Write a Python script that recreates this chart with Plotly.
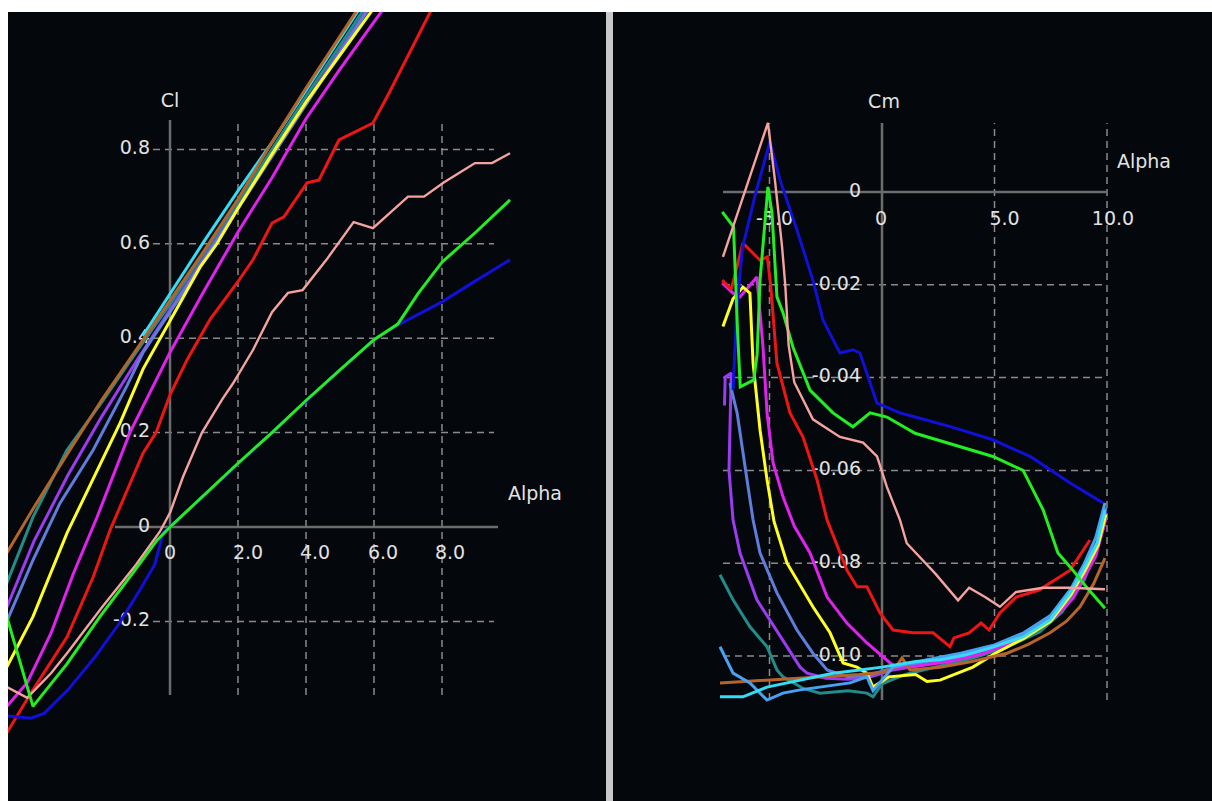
import plotly.graph_objects as go

# ------------------------------------------------------------------
# DATA
# ------------------------------------------------------------------
# ---- Left panel : Cl vs Alpha ----
cl_alpha_blue = [-4.8, -4.1, -3.7, -3.0, -2.2, -1.5, -0.9, -0.45, -0.2, 1.0, 2.0, 3.0, 4.0, 5.0, 6.0, 6.7, 7.5, 8.0, 9.0, 10.0]
cl_blue = [-0.40, -0.405, -0.395, -0.345, -0.275, -0.205, -0.135, -0.08, -0.013, 0.067, 0.134, 0.2, 0.267, 0.333, 0.397, 0.428, 0.458, 0.477, 0.522, 0.566]

cl_alpha_green = [-4.8, -4.03, -3.03, -2.06, -1.09, -0.38, 0.0, 1.0, 2.0, 3.0, 4.0, 5.0, 6.0, 6.7, 7.3, 8.0, 9.0, 10.0]
cl_green = [-0.19, -0.38, -0.29, -0.19, -0.097, -0.028, 0.0, 0.068, 0.135, 0.2, 0.268, 0.333, 0.397, 0.43, 0.495, 0.561, 0.625, 0.693]

cl_alpha_pink = [-4.8, -4.2, -3.5, -3.0, -2.0, -1.0, -0.3, 0.0, 0.38, 0.94, 1.53, 1.86, 2.44, 3.0, 3.47, 3.9, 4.6, 5.4, 5.97, 6.45, 7.0, 7.47, 8.05, 8.5, 8.97, 9.47, 10.0]
cl_pink = [-0.339, -0.362, -0.31, -0.265, -0.17, -0.08, -0.01, 0.03, 0.106, 0.2, 0.27, 0.305, 0.375, 0.455, 0.496, 0.502, 0.566, 0.646, 0.633, 0.665, 0.70, 0.70, 0.73, 0.75, 0.771, 0.771, 0.792]

cl_alpha_red = [-4.8, -4.03, -3.03, -2.26, -1.76, -1.26, -0.79, -0.41, 0.0, 0.5, 1.18, 1.97, 2.44, 3.0, 3.35, 4.03, 4.38, 4.97, 5.97, 6.44, 7.12, 7.65, 8.0]
cl_red = [-0.436, -0.345, -0.233, -0.106, -0.006, 0.078, 0.157, 0.2, 0.28, 0.354, 0.44, 0.517, 0.566, 0.644, 0.657, 0.729, 0.735, 0.82, 0.856, 0.919, 1.017, 1.091, 1.14]

cl_alpha_magenta = [-4.8, -4.2, -3.5, -2.85, -2.15, -1.18, 0.0, 1.0, 2.0, 3.0, 4.0, 5.0, 6.0, 6.5]
cl_magenta = [-0.38, -0.33, -0.225, -0.1, 0.02, 0.2, 0.37, 0.5, 0.625, 0.74, 0.865, 0.97, 1.07, 1.12]

cl_alpha_yellow = [-4.8, -4.03, -3.03, -1.85, -1.47, -0.79, 0.0, 0.88, 1.38, 2.0, 3.0, 4.0, 5.0, 6.0]
cl_yellow = [-0.297, -0.19, -0.013, 0.163, 0.22, 0.335, 0.438, 0.55, 0.6, 0.675, 0.79, 0.9, 1.0, 1.1]

cl_alpha_steel = [-4.8, -4.03, -3.24, -2.26, -1.26, -0.79, 0.0, 1.0, 2.0, 3.0, 4.0, 5.0, 6.0]
cl_steel = [-0.2, -0.07, 0.05, 0.163, 0.30, 0.37, 0.455, 0.565, 0.675, 0.785, 0.895, 1.005, 1.115]

cl_alpha_purple = [-4.8, -4.0, -3.0, -2.0, -1.0, 0.0, 1.0, 2.0, 3.0, 4.0, 5.0, 6.0]
cl_purple = [-0.17, -0.03, 0.11, 0.235, 0.35, 0.46, 0.57, 0.68, 0.79, 0.9, 1.01, 1.12]

cl_alpha_teal = [-4.8, -4.03, -3.03, -2.0, -1.0, 0.0, 1.0, 2.0, 3.0, 4.0, 5.0, 6.0]
cl_teal = [-0.119, 0.021, 0.163, 0.265, 0.37, 0.472, 0.58, 0.688, 0.8, 0.912, 1.02, 1.13]

cl_alpha_cyan = [-0.8, 0.0, 1.0, 2.0, 3.0, 4.0, 5.0, 6.0]
cl_cyan = [0.405, 0.495, 0.605, 0.712, 0.815, 0.925, 1.035, 1.145]

cl_alpha_brown = [-4.8, -4.0, -3.0, -2.0, -1.0, 0.0, 1.0, 2.0, 3.0, 4.0, 5.0, 6.0]
cl_brown = [-0.055, 0.042, 0.157, 0.27, 0.375, 0.48, 0.585, 0.695, 0.815, 0.93, 1.04, 1.15]

# ---- Right panel : Cm vs Alpha ----
cm_alpha_pink = [-7.07, -6.0, -5.07, -4.76, -4.44, -4.3, -4.15, -3.9, -3.07, -1.87, -0.84, -0.22, 0.22, 0.8, 1.1, 2.36, 3.38, 3.87, 4.58, 5.24, 5.96, 7.16, 8.36, 9.91]
cm_pink = [-0.014, 0.0012, 0.0149, 0.0026, -0.0119, -0.02, -0.033, -0.041, -0.049, -0.0528, -0.054, -0.057, -0.0636, -0.0707, -0.0757, -0.0822, -0.088, -0.0853, -0.0873, -0.0894, -0.0862, -0.0853, -0.0853, -0.0856]

cm_alpha_blue = [-6.62, -6.45, -6.2, -5.6, -4.98, -4.53, -3.78, -3.07, -2.62, -1.87, -1.29, -0.98, -0.22, 0.8, 1.47, 3.0, 4.93, 6.62, 8.36, 9.82]
cm_blue = [-0.0427, -0.025, -0.012, 0.0, 0.0108, 0.0026, -0.0082, -0.019, -0.0276, -0.0347, -0.034, -0.0347, -0.0455, -0.0476, -0.0485, -0.0505, -0.0534, -0.0571, -0.0627, -0.067]

cm_alpha_green = [-7.1, -6.6, -6.42, -6.3, -5.7, -5.55, -5.42, -5.07, -4.89, -4.67, -4.4, -3.96, -3.2, -2.18, -1.29, -0.53, 0.22, 1.47, 4.93, 6.27, 7.16, 7.82, 8.36, 9.2, 9.91]
cm_green = [-0.0043, -0.0075, -0.03, -0.042, -0.0405, -0.035, -0.019, 0.0011, -0.0045, -0.0226, -0.026, -0.0334, -0.0427, -0.0476, -0.0506, -0.0476, -0.0485, -0.052, -0.057, -0.06, -0.0685, -0.0778, -0.0808, -0.0858, -0.0897]

cm_alpha_red = [-7.1, -6.7, -6.18, -5.42, -5.1, -4.95, -4.67, -4.09, -3.51, -2.89, -2.44, -1.56, -1.11, -0.67, -0.09, 0.49, 1.38, 2.27, 3.02, 3.2, 3.87, 4.4, 4.76, 5.24, 5.96, 6.98, 8.36, 9.24]
cm_red = [-0.019, -0.021, -0.011, -0.0147, -0.014, -0.02, -0.0369, -0.0476, -0.0528, -0.062, -0.0707, -0.0815, -0.0851, -0.0851, -0.0907, -0.0944, -0.095, -0.095, -0.098, -0.0961, -0.095, -0.0929, -0.0944, -0.0907, -0.0873, -0.0858, -0.0815, -0.075]

cm_alpha_magenta = [-7.1, -6.62, -6.31, -5.56, -5.29, -5.11, -4.84, -4.4, -3.9, -3.2, -2.44, -1.56, -0.67, 0.36, 0.67, 1.5, 3.0, 4.5, 6.0, 7.5, 8.5, 9.5, 9.95]
cm_magenta = [-0.0196, -0.0218, -0.0226, -0.0183, -0.0334, -0.0476, -0.0584, -0.0657, -0.072, -0.0778, -0.0873, -0.0929, -0.0972, -0.1015, -0.1024, -0.1022, -0.1012, -0.0995, -0.0966, -0.0925, -0.0875, -0.0785, -0.0705]

cm_alpha_yellow = [-7.07, -6.62, -6.18, -5.87, -5.73, -5.42, -5.11, -4.8, -4.22, -3.78, -3.07, -2.31, -1.73, -1.11, -0.67, -0.4, 0.3, 1.5, 2.0, 2.58, 4.04, 5.0, 6.3, 7.5, 8.4, 9.0, 9.6, 9.95]
cm_yellow = [-0.029, -0.023, -0.0205, -0.0218, -0.0369, -0.0513, -0.062, -0.071, -0.08, -0.0836, -0.0894, -0.095, -0.1015, -0.1024, -0.1037, -0.1067, -0.1045, -0.104, -0.1055, -0.1052, -0.1024, -0.0995, -0.0962, -0.0925, -0.0868, -0.0818, -0.0762, -0.0695]

cm_alpha_purple = [-7.0, -6.97, -6.7, -6.75, -6.8, -6.62, -6.31, -5.56, -4.98, -4.22, -3.64, -3.33, -2.5, -1.5, -0.5, 0.5, 2.0, 3.5, 5.0, 6.3, 7.5, 8.4, 9.0, 9.6, 9.95]
cm_purple = [-0.046, -0.0399, -0.039, -0.05, -0.06, -0.0707, -0.0778, -0.0879, -0.0922, -0.098, -0.1024, -0.1037, -0.1048, -0.105, -0.1045, -0.103, -0.1018, -0.1002, -0.0982, -0.0958, -0.092, -0.0864, -0.0814, -0.0756, -0.069]

cm_alpha_corn = [-6.76, -6.44, -6.0, -5.73, -5.42, -4.67, -3.78, -3.07, -2.44, -1.5, -0.5, 0.5, 2.0, 3.5, 5.0, 6.3, 7.5, 8.4, 9.0, 9.6, 9.95]
cm_corn = [-0.0412, -0.0476, -0.062, -0.0707, -0.0778, -0.0864, -0.0944, -0.0994, -0.103, -0.1045, -0.104, -0.1025, -0.1012, -0.0998, -0.098, -0.0955, -0.0918, -0.086, -0.081, -0.0752, -0.068]

cm_alpha_teal = [-7.2, -6.62, -5.87, -5.11, -4.67, -4.4, -3.5, -2.76, -1.5, -0.67, -0.4, 0.0, 1.0, 2.5, 4.0, 5.5, 7.0, 8.0, 9.0, 9.9]
cm_teal = [-0.0825, -0.0879, -0.0937, -0.098, -0.103, -0.1045, -0.107, -0.108, -0.1075, -0.108, -0.1088, -0.106, -0.104, -0.1022, -0.1005, -0.0982, -0.0948, -0.0905, -0.0835, -0.0715]

cm_alpha_lblue = [-7.2, -6.62, -5.87, -5.11, -4.4, -3.64, -1.42, -0.67, -0.4, 0.49, 2.0, 3.5, 5.0, 6.3, 7.5, 8.4, 9.0, 9.5, 9.91]
cm_lblue = [-0.098, -0.1037, -0.1058, -0.1095, -0.108, -0.1073, -0.1058, -0.1045, -0.1075, -0.1024, -0.1008, -0.0994, -0.0976, -0.095, -0.0912, -0.0855, -0.08, -0.0745, -0.067]

cm_alpha_brown = [-7.2, -5.0, -3.0, -1.0, 0.0, 0.6, 0.89, 1.24, 2.58, 4.0, 5.56, 6.5, 7.47, 8.2, 8.8, 9.4, 9.91]
cm_brown = [-0.1058, -0.1052, -0.1046, -0.104, -0.1035, -0.1025, -0.1004, -0.103, -0.1024, -0.1012, -0.0994, -0.0975, -0.095, -0.0925, -0.0894, -0.0845, -0.0789]

cm_alpha_cyan = [-7.2, -6.18, -5.11, -3.64, -2.18, -0.98, 0.0, 1.5, 2.6, 3.7, 4.8, 6.27, 7.47, 8.36, 8.93, 9.56, 9.91]
cm_cyan = [-0.1088, -0.1088, -0.1067, -0.1052, -0.1037, -0.103, -0.1024, -0.1012, -0.1008, -0.0998, -0.0983, -0.0959, -0.0922, -0.0864, -0.0815, -0.0757, -0.0685]

# ---- tick labels ----
cl_xticks = [0, 2, 4, 6, 8]
cl_xtick_text = ["0", "2.0", "4.0", "6.0", "8.0"]
cl_yticks = [0.8, 0.6, 0.4, 0.2, 0, -0.2]
cl_ytick_text = ["0.8", "0.6", "0.4", "0.2", "0", "-0.2"]
cl_grid_x = [2, 4, 6, 8]
cl_grid_y = [0.8, 0.6, 0.4, 0.2, -0.2]

cm_xticks = [-5, 0, 5, 10]
cm_xtick_text = ["-5.0", "0", "5.0", "10.0"]
cm_yticks = [0, -0.02, -0.04, -0.06, -0.08, -0.10]
cm_ytick_text = ["0", "-0.02", "-0.04", "-0.06", "-0.08", "-0.10"]
cm_grid_x = [-5, 5, 10]
cm_grid_y = [-0.02, -0.04, -0.06, -0.08, -0.10]

# ------------------------------------------------------------------
# COLOURS / GEOMETRY
# ------------------------------------------------------------------
C_BLUE = "#1010d8"
C_GREEN = "#22ee22"
C_PINK = "#f4a3a0"
C_RED = "#ee1515"
C_MAGENTA = "#e022ee"
C_YELLOW = "#ffff22"
C_PURPLE = "#9b3cf0"
C_STEEL = "#5f7ddc"
C_TEAL = "#218c88"
C_CYAN = "#35dcf5"
C_LBLUE = "#48a2f2"
C_BROWN = "#b5652a"
BG = "#04070b"
GRID = "#8a8a8a"
AXIS = "#6c6c6c"
TXT = "#e2e2e2"
FONT = "DejaVu Sans"
FSIZE = 19
LW = 3.0

W, H = 1212, 801
Y_TOP, Y_BOT = 12, 801
L_X0, L_X1 = 8, 606
R_X0, R_X1 = 613, 1212
L_OX, L_OY, L_SX, L_SY = 170, 527, 34.0, 472.0       # origin px & px per unit
R_OX, R_OY, R_SX, R_SY = 882, 192, 22.5, 4640.0

fig = go.Figure()

# ---------------- text (drawn first, so curves pass over it) -------
def text_trace(x, y, text, pos, xa, ya):
    return go.Scatter(x=x, y=y, text=text, mode="text", textposition=pos,
                      textfont=dict(family=FONT, size=FSIZE, color=TXT),
                      hoverinfo="skip", xaxis=xa, yaxis=ya)

l_xoff = [0, 10, 9, 9, 8]
fig.add_trace(text_trace([v + o / L_SX for v, o in zip(cl_xticks, l_xoff)],
                         [-27 / L_SY] * len(cl_xticks), cl_xtick_text, "middle center", "x", "y"))
fig.add_trace(text_trace([-20 / L_SX] * len(cl_yticks), cl_yticks, cl_ytick_text, "middle left", "x", "y"))
fig.add_trace(text_trace([0, 365 / L_SX], [425 / L_SY, 32 / L_SY], ["Cl", "Alpha"], "middle center", "x", "y"))

r_xoff = [5, -1, 10, 6]
fig.add_trace(text_trace([v + o / R_SX for v, o in zip(cm_xticks, r_xoff)],
                         [-28 / R_SY] * len(cm_xticks), cm_xtick_text, "middle center", "x2", "y2"))
fig.add_trace(text_trace([-21 / R_SX] * len(cm_yticks), cm_yticks, cm_ytick_text, "middle left", "x2", "y2"))
fig.add_trace(text_trace([2 / R_SX, 262 / R_SX], [89 / R_SY, 29 / R_SY], ["Cm", "Alpha"], "middle center", "x2", "y2"))

# ---------------- curves ----------------
left_series = [
    (cl_alpha_purple, cl_purple, C_PURPLE),
    (cl_alpha_steel, cl_steel, C_STEEL),
    (cl_alpha_teal, cl_teal, C_TEAL),
    (cl_alpha_cyan, cl_cyan, C_CYAN),
    (cl_alpha_brown, cl_brown, C_BROWN),
    (cl_alpha_yellow, cl_yellow, C_YELLOW),
    (cl_alpha_magenta, cl_magenta, C_MAGENTA),
    (cl_alpha_red, cl_red, C_RED),
    (cl_alpha_blue, cl_blue, C_BLUE),
    (cl_alpha_pink, cl_pink, C_PINK),
    (cl_alpha_green, cl_green, C_GREEN),
]
for xs, ys, col in left_series:
    fig.add_trace(go.Scatter(x=xs, y=ys, mode="lines",
                             line=dict(color=col, width=(2.4 if col == C_PINK else LW)),
                             xaxis="x", yaxis="y", hoverinfo="skip"))

right_series = [
    (cm_alpha_teal, cm_teal, C_TEAL),
    (cm_alpha_purple, cm_purple, C_PURPLE),
    (cm_alpha_corn, cm_corn, C_STEEL),
    (cm_alpha_magenta, cm_magenta, C_MAGENTA),
    (cm_alpha_yellow, cm_yellow, C_YELLOW),
    (cm_alpha_brown, cm_brown, C_BROWN),
    (cm_alpha_lblue, cm_lblue, C_LBLUE),
    (cm_alpha_cyan, cm_cyan, C_CYAN),
    (cm_alpha_red, cm_red, C_RED),
    (cm_alpha_blue, cm_blue, C_BLUE),
    (cm_alpha_green, cm_green, C_GREEN),
    (cm_alpha_pink, cm_pink, C_PINK),
]
for xs, ys, col in right_series:
    fig.add_trace(go.Scatter(x=xs, y=ys, mode="lines",
                             line=dict(color=col, width=(2.4 if col == C_PINK else LW)),
                             xaxis="x2", yaxis="y2", hoverinfo="skip"))

# ---------------- grid + axes (shapes below traces) ----------------
shapes = []
def seg(xr, yr, x0, y0, x1, y1, color, width, dash="solid"):
    shapes.append(dict(type="line", xref=xr, yref=yr, x0=x0, y0=y0, x1=x1, y1=y1,
                       line=dict(color=color, width=width, dash=dash), layer="below"))

# left panel
l_ybot, l_ytop = (L_OY - 695) / L_SY, (L_OY - 120) / L_SY
l_xleft, l_xright = (115 - L_OX) / L_SX, (498 - L_OX) / L_SX
l_gleft, l_gright = (153 - L_OX) / L_SX, (494 - L_OX) / L_SX
for gx in cl_grid_x:
    seg("x", "y", gx, l_ybot, gx, l_ytop, GRID, 1.5, "7px,5px")
for gy in cl_grid_y:
    seg("x", "y", l_gleft, gy, l_gright, gy, GRID, 1.5, "7px,5px")
seg("x", "y", 0, l_ybot, 0, l_ytop, AXIS, 2.5)
seg("x", "y", l_xleft, 0, l_xright, 0, AXIS, 2.5)

# right panel
r_ybot, r_ytop = (R_OY - 700) / R_SY, (R_OY - 123) / R_SY
r_xleft, r_xright = (723 - R_OX) / R_SX, 10
for gx in cm_grid_x:
    seg("x2", "y2", gx, r_ybot, gx, r_ytop, GRID, 1.5, "7px,5px")
for gy in cm_grid_y:
    seg("x2", "y2", r_xleft, gy, r_xright, gy, GRID, 1.5, "7px,5px")
seg("x2", "y2", 0, r_ybot, 0, r_ytop, AXIS, 2.5)
seg("x2", "y2", r_xleft, 0, r_xright, 0, AXIS, 2.5)

# separator between the panels
shapes.append(dict(type="rect", xref="paper", yref="paper", x0=606 / W, x1=613 / W,
                   y0=0, y1=(Y_BOT - Y_TOP) / H, fillcolor="#c9c9c9", line=dict(width=0), layer="above"))

ydom = [0, (Y_BOT - Y_TOP) / H]
ax_common = dict(visible=False, showgrid=False, zeroline=False, fixedrange=True)
fig.update_layout(
    width=W, height=H,
    margin=dict(l=0, r=0, t=0, b=0, pad=0),
    paper_bgcolor="white", plot_bgcolor=BG,
    showlegend=False,
    xaxis=dict(domain=[L_X0 / W, L_X1 / W],
               range=[(L_X0 - L_OX) / L_SX, (L_X1 - L_OX) / L_SX], **ax_common),
    yaxis=dict(domain=ydom, range=[(L_OY - Y_BOT) / L_SY, (L_OY - Y_TOP) / L_SY], **ax_common),
    xaxis2=dict(domain=[R_X0 / W, R_X1 / W],
                range=[(R_X0 - R_OX) / R_SX, (R_X1 - R_OX) / R_SX], anchor="y2", **ax_common),
    yaxis2=dict(domain=ydom, range=[(R_OY - Y_BOT) / R_SY, (R_OY - Y_TOP) / R_SY], anchor="x2", **ax_common),
    shapes=shapes,
)

fig.write_html("out.html",
               config={"displayModeBar": False},
               post_script="document.body.style.margin='0px';document.body.style.overflow='hidden';")
